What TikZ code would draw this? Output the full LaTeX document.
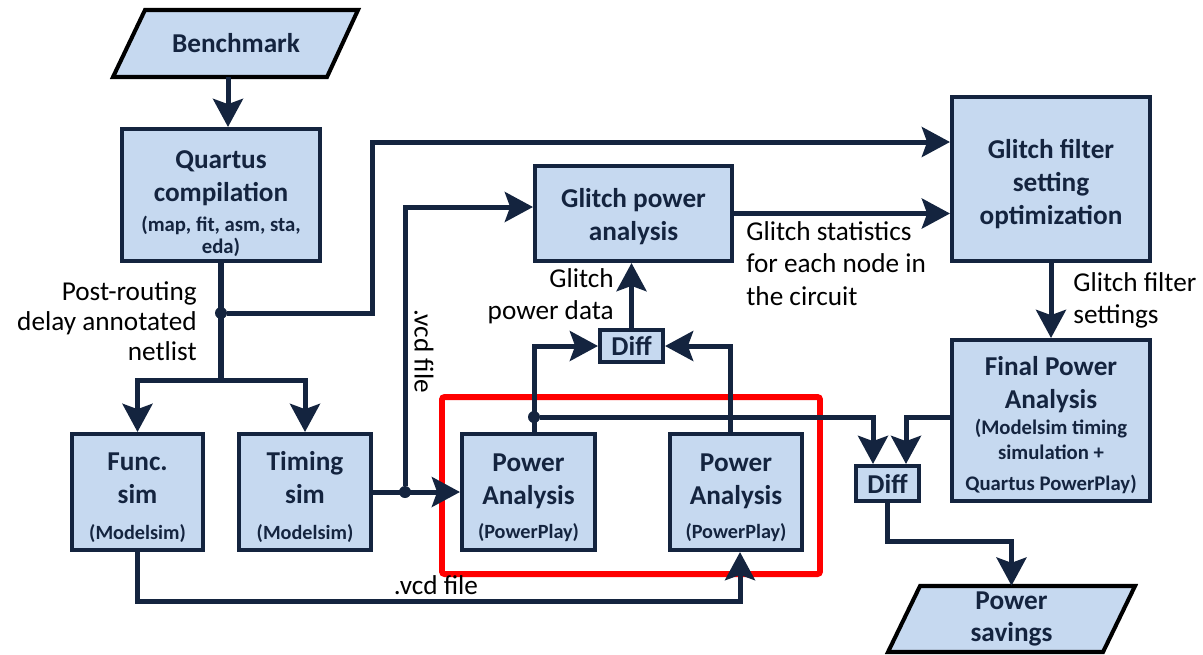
\documentclass[tikz,border=0pt]{standalone}
\usepackage{fontspec}
\setmainfont{Carlito}
\usetikzlibrary{arrows.meta}
\definecolor{navy}{HTML}{14243F}
\definecolor{boxblue}{HTML}{C6D9F0}
\definecolor{hilite}{HTML}{FF0000}
\newcommand\ttlfont{\fontsize{15.5}{18.6}\selectfont\bfseries}
\newcommand\smallbold{\fontsize{11.5}{14}\selectfont\bfseries}
\newcommand\tinybold{\fontsize{11.8}{12.5}\selectfont\bfseries}
\newcommand\lblfont{\fontsize{15.5}{18.6}\selectfont}
\newcommand\capgap[1][16.5pt]{\rule{0pt}{#1}}
\tikzset{
  blk/.style={draw=navy, fill=boxblue, line width=2.3pt, text=navy, font=\ttlfont, align=center, inner sep=0pt},
  iobox/.style={draw=black, fill=boxblue, line width=2.3pt},
  iotext/.style={text=navy, font=\ttlfont, align=center, inner sep=0pt},
  arr/.style={draw=navy, line width=2.85pt, -{Stealth[length=16pt,width=17pt,inset=3pt]}},
  wire/.style={draw=navy, line width=2.85pt},
  dot/.style={circle, fill=navy, inner sep=0pt, minimum size=0.24cm},
  lbl/.style={font=\lblfont, inner sep=0pt},
}
\begin{document}
\begin{tikzpicture}[x=0.02cm, y=-0.02cm]
\useasboundingbox (0,0) rectangle (1203,654);
% input and output
\draw[iobox] (113,77) -- (145,10) -- (358,10) -- (327,77) -- cycle;
\node[iotext, minimum width=4.28cm, minimum height=1.34cm] (bench) at (236,43.5) {Benchmark};
\draw[iobox] (888,652) -- (920,586) -- (1135,586) -- (1103,652) -- cycle;
\node[iotext, minimum width=4.3cm, minimum height=1.32cm] (save) at (1011.5,619) {Power\\savings};
% blocks
\node[blk, minimum width=3.96cm, minimum height=2.64cm] (quartus) at (221,195) {\capgap[20pt]Quartus\\compilation\\[-1.4pt]\tinybold (map, fit, asm, sta,\\[-6.1pt]\tinybold eda)};
\node[blk, minimum width=2.62cm, minimum height=2.32cm] (func) at (137.5,492) {\capgap Func.\\sim\\[1.8pt]\smallbold (Modelsim)};
\node[blk, minimum width=2.64cm, minimum height=2.32cm] (timing) at (305,492) {\capgap Timing\\sim\\[1.8pt]\smallbold (Modelsim)};
\node[blk, minimum width=2.66cm, minimum height=2.32cm] (pa1) at (528.5,492) {\capgap Power\\Analysis\\[0.8pt]\smallbold (PowerPlay)};
\node[blk, minimum width=2.64cm, minimum height=2.32cm] (pa2) at (736,492) {\capgap Power\\Analysis\\[0.8pt]\smallbold (PowerPlay)};
\node[blk, minimum width=3.94cm, minimum height=1.9cm] (gpa) at (633.5,213.5) {\capgap[14pt]Glitch power\\analysis};
\node[blk, minimum width=3.96cm, minimum height=3.28cm] (gfs) at (1051,179) {\capgap Glitch filter\\setting\\optimization};
\node[blk, minimum width=3.96cm, minimum height=3.22cm] (fpa) at (1051,420.5) {\capgap Final Power\\Analysis\\[-3.6pt]\tinybold (Modelsim timing\\[-4.4pt]\tinybold simulation +\\[-1pt]\tinybold Quartus PowerPlay)};
\node[blk, minimum width=1.26cm, minimum height=0.64cm] (diff1) at (631.5,346) {Diff};
\node[blk, minimum width=1.26cm, minimum height=0.7cm] (diff2) at (887.5,483.5) {Diff};
% highlight
\draw[hilite, line width=3.4pt, rounded corners=1.5pt] (442,397) rectangle (820,574);
% junctions
\node[dot] (j1) at (221,313) {};
\node[dot] (j2) at (405,492) {};
\node[dot] (j3) at (534,417) {};
\coordinate (split) at (221,380);
\coordinate (c1) at (372,142);
\coordinate (c2) at (405,207);
% connectors
\draw[arr] ([xshift=-0.16cm]bench.south) -- ([xshift=-0.16cm]bench.south |- quartus.north);
\draw[wire] (quartus.south) -- (split);
\draw[arr] (split) -| (func.north);
\draw[arr] (split) -| (timing.north);
\draw[arr] (j1) -| (c1) -- (c1 -| gfs.west);
\draw[arr] (timing) -- (pa1);
\draw[arr] (j2) -- (c2) -- (c2 -| gpa.west);
\draw[arr] (gpa.east) -- (gpa.east -| gfs.west);
\draw[arr] (gfs) -- (fpa);
\draw[arr] (diff1.north) -- (diff1.north |- gpa.south);
\draw[arr] ([xshift=0.11cm]pa1.north) |- (diff1.west);
\draw[arr] ([xshift=-0.12cm]pa2.north) |- (diff1.east);
\draw[arr] (j3) -| ([xshift=-0.29cm]diff2.north);
\draw[arr] (fpa.west |- j3) -| ([xshift=0.37cm]diff2.north);
\draw[arr] (diff2.south) -- ++(0,38) -| (save.north);
\draw[arr] (func.south) -- ++(0,49) -| ([xshift=0.08cm]pa2.south);
% labels
\node[lbl, font=\fontsize{15.5}{17.3}\selectfont, align=right, anchor=north east] (postlbl) at (197,281) {Post-routing\\delay annotated\\netlist};
\node[lbl, rotate=-90] (vcdlbl) at (424,351) {.vcd file};
\node[lbl] (vcdlbl2) at (436,585) {.vcd file};
\node[lbl, align=right, anchor=north east] (gpdlbl) at (614,268) {Glitch\\power data};
\node[lbl, align=left, anchor=north west] (statlbl) at (746,221) {Glitch statistics\\for each node in\\the circuit};
\node[lbl, align=left, anchor=north west] (setlbl) at (1073,272) {Glitch filter\\settings};
\end{tikzpicture}
\end{document}
